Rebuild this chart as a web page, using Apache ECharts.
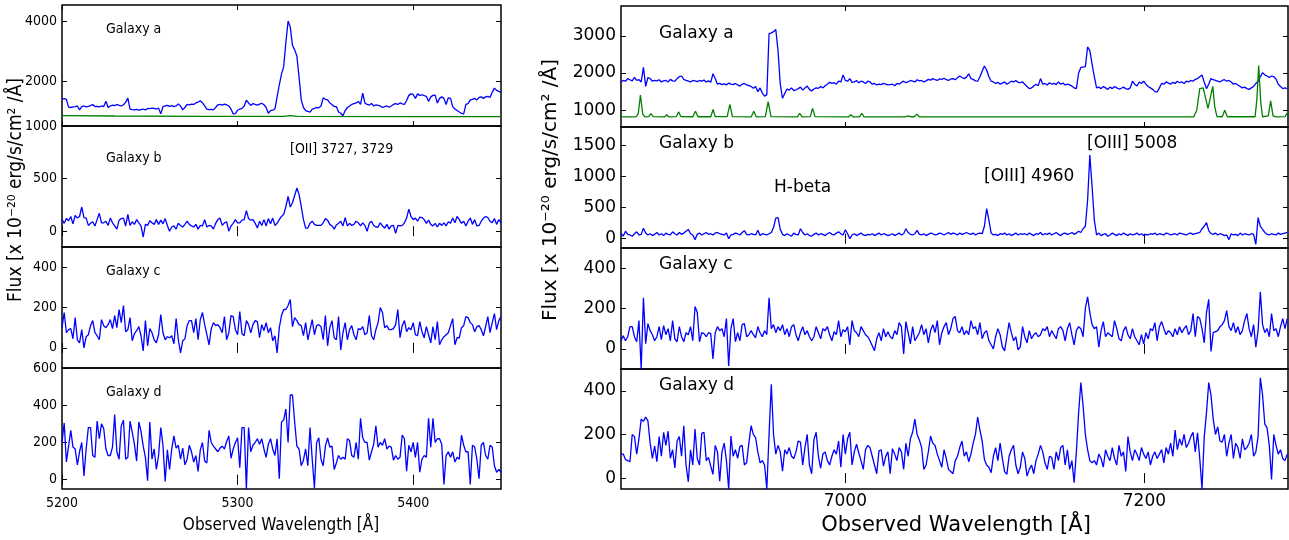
<!DOCTYPE html>
<html>
<head>
<meta charset="utf-8">
<script src="https://cdn.jsdelivr.net/npm/echarts@6/dist/echarts.min.js"></script>
<style>
  html, body { margin: 0; padding: 0; background: #fff; }
  #main { width: 1289px; height: 540px; }
</style>
</head>
<body>
<div id="main"></div>
<script>
// wavelength grids (Angstrom)
const leftStart = 5200, leftStep = 1.25;
const rightStart = 6850, rightStep = 1.5;

const leftTicks = [5200, 5300, 5400];
const rightTicks = [7000, 7200];

// ---- left column, flux values ----
const leftA = [
  1430,1440,1420,1160,1150,1170,1180,1200,1070,1180,
  1200,1170,1190,1210,1250,1180,1190,1170,1200,1180,
  1355,1150,1200,1230,1210,1250,1220,1200,1240,1320,
  1460,1100,1080,1070,1090,1060,1080,1100,1070,1120,
  1110,1130,1120,1100,1130,940,1180,1200,1220,1190,
  1210,1180,1200,1270,1200,1070,1150,1250,1240,1260,
  1250,1300,1330,1370,1300,1200,1100,1080,1090,1070,
  1150,1240,1250,1230,1260,1240,1200,1100,940,950,
  1060,1100,1120,1200,1390,1300,1220,1280,1250,1230,
  1260,1290,1240,1150,960,1050,1060,1100,1500,1900,
  2250,2500,3300,4000,3800,3200,3050,2850,2150,1400,
  1150,1050,1020,1000,1100,1120,1150,1140,1200,1470,
  1420,1400,1300,1250,1180,1180,1000,960,880,1050,
  1150,1200,1250,1280,1300,1350,1250,1620,1300,1250,
  1230,1280,1200,1240,1220,1200,1150,1180,1200,1160,
  1200,1250,1280,1250,1300,1270,1250,1380,1550,1600,
  1580,1450,1600,1550,1570,1540,1520,1350,1500,1550,
  1560,1300,1450,1500,1450,1250,1470,1450,1180,1100,
  1050,1000,960,940,1250,1280,1400,1420,1450,1400,
  1480,1500,1450,1500,1520,1480,1650,1790,1720,1680,
  1650
];
const leftSkyA = [
  [5200, 880], [5230, 870], [5280, 860], [5326, 860], [5330, 885], [5334, 860], [5400, 850], [5450, 848]
];
const leftB = [
  113,75,120,100,140,70,150,125,140,230,
  130,125,55,75,90,50,110,170,80,80,
  95,55,125,80,50,20,105,120,125,50,
  160,55,90,65,110,80,50,-55,65,55,
  100,80,65,110,65,105,70,120,55,0,
  40,50,20,75,55,40,65,95,65,50,
  40,65,20,55,50,110,40,55,50,20,
  75,110,125,55,80,90,0,50,75,110,
  80,80,105,110,195,120,105,110,75,30,
  95,55,110,50,120,70,125,55,75,110,
  140,160,235,330,230,270,340,410,350,235,
  110,30,30,75,95,65,55,55,55,80,
  120,105,65,50,20,60,75,95,50,130,
  50,75,55,65,95,80,50,80,55,0,
  75,95,55,40,40,80,50,30,65,20,
  50,55,-20,55,50,55,80,125,210,140,
  110,125,95,135,130,110,75,105,65,50,
  75,40,75,55,80,50,90,75,125,80,
  140,110,75,95,50,95,125,65,110,50,
  55,95,125,140,130,95,80,120,65,110,
  80
];
const leftC = [
  100,175,75,90,95,45,150,40,25,90,
  0,55,65,110,135,75,60,40,140,110,
  100,115,140,95,160,100,190,125,210,80,
  90,150,35,70,85,105,60,-15,135,10,
  95,75,40,25,65,165,75,40,55,50,
  60,20,145,40,-25,35,45,110,135,135,
  75,145,40,140,175,115,65,15,95,125,
  110,115,100,75,155,40,75,160,155,90,
  65,180,70,60,135,115,75,115,135,130,
  50,115,85,125,75,100,35,60,-25,100,
  160,190,190,210,240,105,150,135,115,110,
  60,125,40,90,140,65,110,115,105,40,
  160,10,100,135,50,40,155,-10,75,125,
  40,90,110,65,40,95,90,105,65,75,
  160,60,40,90,125,200,175,100,110,90,
  90,95,115,190,50,110,135,80,100,90,
  125,65,60,130,80,50,105,65,25,105,
  40,130,15,40,55,65,75,110,145,15,
  50,50,100,110,155,150,125,115,80,105,
  110,90,60,105,155,75,125,170,90,135,
  155
];
const leftD = [
  200,305,95,180,265,175,165,80,150,200,
  20,165,280,280,130,120,315,220,300,275,
  165,130,130,175,350,150,110,290,320,110,
  120,315,255,190,100,310,260,180,120,-5,
  310,110,165,55,130,280,185,-10,160,55,
  165,235,170,185,110,170,80,110,185,150,
  95,130,45,160,200,100,90,265,200,180,
  165,150,170,180,165,205,235,115,165,200,
  225,65,280,280,-50,280,150,185,200,220,
  190,220,165,120,190,220,165,130,220,5,
  310,320,380,200,455,455,310,180,165,75,
  105,165,75,280,110,-45,200,225,110,75,
  180,225,175,180,55,90,130,110,120,110,
  220,210,130,120,200,110,330,225,200,200,
  105,150,190,290,175,200,185,220,165,180,
  175,105,130,110,120,240,220,45,185,150,
  200,120,200,40,110,130,120,330,175,330,
  200,220,220,190,-25,130,150,120,150,95,
  120,110,240,185,150,150,-25,185,175,110,
  5,185,200,130,110,185,175,75,40,55,
  40
];

// ---- right column ----
const rightA = [
  1760,1800,1780,1850,1820,1790,1880,1800,1820,1760,
  2150,1640,1880,1850,1780,1800,1790,1820,1760,1790,
  1800,1760,1830,1790,1780,1850,1900,1920,1830,1800,
  1780,1760,1800,1790,1770,1800,1780,1810,1760,1790,
  1750,1980,1850,1700,1720,1690,1710,1680,1730,1700,
  1690,1720,1680,1650,1700,1720,1680,1660,1640,1590,
  1640,1500,1600,1460,1380,1420,3060,3080,3110,3170,
  2600,1700,1320,1450,1570,1540,1600,1530,1550,1580,
  1620,1540,1600,1650,1560,1520,1570,1600,1590,1640,
  1600,1660,1700,1750,1720,1740,1700,1780,1760,1950,
  1800,1780,1850,1750,1760,1800,1740,1780,1760,1720,
  1780,1760,1700,1720,1680,1700,1690,1720,1700,1680,
  1690,1700,1660,1720,1700,1750,1780,1740,1760,1800,
  1780,1760,1820,1790,1800,1760,1790,1830,1810,1850,
  1820,1800,1840,1830,1860,1820,1800,1840,1850,1820,
  1870,1920,1880,1850,1890,1980,1850,1830,1790,1780,
  1900,2050,2190,2080,1900,1780,1760,1720,1750,1700,
  1730,1760,1700,1740,1780,1760,1800,1750,1740,1760,
  1700,1640,1580,1600,1650,1700,1660,1850,1700,1720,
  1680,1740,1700,1720,1690,1760,1700,1730,1680,1700,
  1680,1650,1600,1580,2000,2150,2160,2170,2700,2600,
  2240,1900,1600,1620,1580,1640,1600,1560,1620,1580,
  1640,1600,1570,1590,1620,1580,1560,1600,1780,1700,
  1650,1760,1720,1780,1700,1640,1600,1560,1500,1490,
  1600,1720,1700,1760,1730,1700,1750,1720,1780,1740,
  1760,1720,1780,1760,1800,1780,1830,1850,1900,1950,
  1750,1580,1700,1850,1820,1800,1780,1760,1800,1820,
  1780,1800,1760,1700,1720,1680,1640,1600,1620,1580,
  1560,1600,1640,1720,1780,1900,2010,1950,1920,1880,
  1920,1900,1840,1700,1640,1580,1600,1580
];
const rightSkyA = [
  [6850,820],[6860,820],[6861.5,900],[6863,1410],[6864.5,900],[6866,820],
  [6868.5,830],[6870,910],[6871.5,830],[6879,820],[6880.6,880],[6882,820],
  [6887,830],[6888.6,955],[6890,830],[6898,825],[6899.8,975],[6901.5,825],
  [6910,825],[6911.6,1020],[6913,830],[6921,830],[6922.8,1160],[6924.5,830],
  [6937,820],[6938.8,975],[6940.5,820],[6946.5,830],[6948.4,1230],[6950.3,830],
  [6968,820],[6969.5,920],[6971,820],[6976.5,830],[6978.1,1050],[6979.7,830],
  [7002,820],[7003.7,880],[7005.3,820],[7009.5,820],[7011,920],[7012.5,820],
  [7040,820],[7042,850],[7044,825],[7046,825],[7047.8,895],[7049.5,825],
  [7090,820],[7160,820],[7233,825],[7235,1000],[7237,1580],[7239.3,1600],
  [7242.5,1050],[7245.7,1640],[7247,1100],[7248.5,830],[7252,825],[7253.7,1000],
  [7255.5,825],[7274,825],[7275.2,1300],[7276.4,2200],[7277.8,1200],[7279,825],
  [7282.8,850],[7284.4,1250],[7286,850],[7288,820],[7294,830],[7296,955]
];
const rightB = [
  90,40,120,70,60,40,80,110,60,70,
  170,90,60,80,50,70,100,60,80,50,
  90,70,60,110,80,60,100,70,90,120,
  150,80,60,-15,70,90,60,80,100,70,
  80,60,90,100,80,70,60,90,0,60,
  70,90,80,60,100,130,70,60,80,70,
  60,135,50,80,70,60,80,100,180,330,
  340,150,70,50,80,60,40,90,70,60,
  160,100,60,80,50,40,70,90,60,80,
  70,50,80,100,70,60,90,110,80,60,
  145,80,0,60,80,50,70,90,60,50,
  70,60,80,50,70,90,60,80,70,50,
  60,80,50,70,90,60,80,160,100,70,
  60,80,135,70,60,80,50,70,90,80,
  60,70,90,80,60,80,100,70,90,80,
  60,90,70,80,100,80,70,90,60,80,
  90,80,200,485,300,90,60,70,50,80,
  70,90,60,80,50,70,90,60,80,70,
  80,60,90,70,50,80,70,100,60,80,
  70,90,60,80,100,70,50,80,90,70,
  80,100,70,90,120,100,160,200,620,1350,
  840,300,60,90,50,70,80,40,60,90,
  70,50,80,60,90,70,50,80,60,70,
  90,60,80,50,70,60,80,70,90,60,
  80,70,60,90,80,60,70,80,60,90,
  80,70,60,80,90,70,80,90,100,160,
  200,260,130,80,70,90,60,80,70,50,
  60,-15,80,60,70,50,90,60,80,70,
  60,80,70,-90,340,200,150,100,70,60,
  80,70,60,90,70,80,90,100
];
const rightC = [
  40,65,40,60,110,110,60,35,140,-100,
  253,25,125,90,70,40,60,110,45,115,
  70,100,40,140,50,35,110,60,35,80,
  70,110,40,210,180,35,80,75,60,80,
  75,-50,80,110,90,100,60,150,-85,100,
  150,35,80,40,120,125,60,70,90,70,
  55,110,80,60,90,70,253,100,120,80,
  110,90,120,70,100,60,110,120,70,40,
  80,110,70,90,60,40,60,110,80,50,
  100,90,110,70,40,85,70,140,60,95,
  85,110,20,140,90,80,60,110,90,70,
  60,40,15,-10,50,80,40,100,60,85,
  60,50,90,70,130,110,-25,135,80,25,
  110,40,60,80,120,70,100,30,90,120,
  80,140,20,80,110,130,70,100,150,160,
  90,80,110,70,90,70,140,100,110,70,
  130,50,80,90,40,20,0,60,100,70,
  10,-10,60,130,80,40,60,-5,10,110,
  60,30,90,50,70,80,60,70,100,90,
  110,60,90,70,50,100,110,90,40,100,
  130,70,20,90,110,100,60,200,258,180,
  120,100,110,8,90,135,60,80,70,60,
  140,100,50,40,90,110,70,50,100,60,
  40,20,70,25,80,50,100,90,130,40,
  110,135,100,70,90,80,60,100,70,110,
  80,100,115,70,90,175,60,160,150,100,
  30,180,245,-13,80,85,90,110,120,140,
  190,110,90,130,80,110,70,90,140,175,
  100,60,120,8,90,283,120,80,100,60,
  175,90,100,60,110,150,100,150
];
const rightD = [
  110,110,85,80,75,200,190,110,180,270,
  260,280,262,160,90,147,75,190,100,210,
  150,215,90,130,47,170,190,100,240,60,
  -17,130,60,225,90,60,205,210,80,95,
  55,17,150,120,-14,120,160,80,-50,193,
  100,130,90,145,150,60,70,160,240,200,
  185,120,70,80,60,-50,200,430,200,110,
  150,120,32,130,110,140,100,90,120,170,
  165,60,140,200,60,20,175,210,100,45,
  110,120,80,60,100,130,110,170,50,200,
  110,180,210,60,120,155,115,80,40,130,
  150,140,100,60,20,125,130,55,100,120,
  20,135,110,80,140,120,40,160,100,180,
  210,270,200,175,140,40,60,120,193,160,
  150,110,80,50,130,90,40,30,20,80,
  100,140,170,100,120,75,110,160,200,280,
  220,170,85,60,50,25,100,140,80,160,
  90,30,17,100,130,150,60,20,50,120,
  90,9,40,60,20,80,110,150,120,70,
  40,100,95,40,120,80,140,150,60,130,
  40,80,-21,120,300,438,330,200,130,80,
  70,80,60,110,90,50,130,100,80,140,
  90,60,150,100,120,30,190,120,80,130,
  110,80,140,110,90,120,60,100,120,90,
  110,130,70,140,110,160,100,220,130,180,
  150,200,140,160,190,210,120,208,90,-50,
  190,300,438,380,270,200,235,170,165,200,
  100,160,200,90,160,140,90,180,130,140,
  160,200,100,120,190,460,380,247,230,150,
  -6,200,150,110,130,90,80,110
];

function spec(vals, start, step) {
  return vals.map((v, i) => [start + i * step, v]);
}

const BLUE = '#0000ff', GREEN = '#008000';
const condensed = "'DejaVu Sans Condensed', 'Liberation Sans Narrow', sans-serif";
const normal = "'DejaVu Sans', sans-serif";

// layout of the eight panels
const L = { left: 62, width: 439, font: condensed, fs: 14, xr: [5200, 5450], xt: leftTicks, lmargin: 7 };
const R = { left: 621, width: 667, font: normal, fs: 17, xr: [6850, 7296], xt: rightTicks, lmargin: 4 };

const panels = [
  { c: L, top: 5, h: 121, yr: [540, 4530], yt: [2000, 4000],
    lines: [[spec(leftA, leftStart, leftStep), BLUE], [leftSkyA, GREEN]] },
  { c: L, top: 126, h: 121, yr: [-150, 1000], yt: [0, 500, 1000],
    lines: [[spec(leftB, leftStart, leftStep), BLUE]] },
  { c: L, top: 247, h: 121, yr: [-100, 500], yt: [0, 200, 400],
    lines: [[spec(leftC, leftStart, leftStep), BLUE]] },
  { c: L, top: 368, h: 121, yr: [-50, 600], yt: [0, 200, 400, 600], bottom: true,
    lines: [[spec(leftD, leftStart, leftStep), BLUE]] },
  { c: R, top: 6, h: 121, yr: [550, 3800], yt: [1000, 2000, 3000],
    lines: [[spec(rightA, rightStart, rightStep), BLUE], [rightSkyA, GREEN]] },
  { c: R, top: 127, h: 121, yr: [-150, 1800], yt: [0, 500, 1000, 1500],
    lines: [[spec(rightB, rightStart, rightStep), BLUE]] },
  { c: R, top: 248, h: 121, yr: [-100, 500], yt: [0, 200, 400],
    lines: [[spec(rightC, rightStart, rightStep), BLUE]] },
  { c: R, top: 369, h: 120, yr: [-50, 500], yt: [0, 200, 400], bottom: true,
    lines: [[spec(rightD, rightStart, rightStep), BLUE]] }
];

const grid = [], xAxis = [], yAxis = [], series = [];
const tick = { show: true, inside: true, length: 5, lineStyle: { color: '#000', width: 1 } };
const plain = v => String(v);

panels.forEach((p, k) => {
  const c = p.c;
  grid.push({
    left: c.left, top: p.top, width: c.width, height: p.h,
    show: true, borderColor: '#000', borderWidth: 1.5,
    backgroundColor: 'transparent', outerBoundsMode: 'none'
  });
  ['bottom', 'top'].forEach((pos, j) => {
    xAxis.push({
      gridIndex: k, type: 'value', position: pos, min: c.xr[0], max: c.xr[1],
      axisLine: { show: false }, splitLine: { show: false },
      axisTick: Object.assign({ customValues: c.xt }, tick),
      axisLabel: {
        show: j === 0 && !!p.bottom, customValues: c.xt, margin: c.lmargin,
        formatter: plain, color: '#000', fontFamily: c.font, fontSize: c.fs
      }
    });
  });
  ['left', 'right'].forEach((pos, j) => {
    yAxis.push({
      gridIndex: k, type: 'value', position: pos, min: p.yr[0], max: p.yr[1],
      axisLine: { show: false }, splitLine: { show: false },
      axisTick: Object.assign({ customValues: p.yt }, tick),
      axisLabel: {
        show: j === 0, customValues: p.yt, margin: 5,
        formatter: plain, color: '#000', fontFamily: c.font, fontSize: c.fs
      }
    });
  });
  p.lines.forEach(([data, color]) => {
    series.push({
      type: 'line', xAxisIndex: 2 * k, yAxisIndex: 2 * k, data,
      symbol: 'none', silent: true, clip: true,
      lineStyle: { color, width: 1.3 }
    });
  });
});

function label(x, y, text, font, extra) {
  return Object.assign({
    type: 'text', x, y, silent: true,
    style: { text, font, fill: '#000', align: 'left', verticalAlign: 'middle' }
  }, extra || {});
}
const lf = '14px ' + condensed, rf = '17px ' + normal;
const ylab = 'Flux [x 10\u207B\u00B2\u2070 erg/s/cm\u00B2 /\u00C5]';

const graphic = [
  label(106, 29, 'Galaxy a', lf),
  label(106, 158, 'Galaxy b', lf),
  label(106, 271, 'Galaxy c', lf),
  label(106, 392, 'Galaxy d', lf),
  label(290, 149, '[OII] 3727, 3729', lf),
  label(659, 34, 'Galaxy a', rf),
  label(659, 144, 'Galaxy b', rf),
  label(659, 265, 'Galaxy c', rf),
  label(659, 386, 'Galaxy d', rf),
  label(774, 188, 'H-beta', rf),
  label(984, 177, '[OIII] 4960', rf),
  label(1087, 144, '[OIII] 5008', rf),
  { type: 'text', x: 281, y: 526, silent: true,
    style: { text: 'Observed Wavelength [\u00C5]', font: '17px ' + condensed, fill: '#000', align: 'center', verticalAlign: 'middle' } },
  { type: 'text', x: 956, y: 526, silent: true,
    style: { text: 'Observed Wavelength [\u00C5]', font: '21px ' + normal, fill: '#000', align: 'center', verticalAlign: 'middle' } },
  { type: 'text', x: 16, y: 190, rotation: Math.PI / 2, silent: true,
    style: { text: ylab, font: '19px ' + condensed, fill: '#000', align: 'center', verticalAlign: 'middle' } },
  { type: 'text', x: 551, y: 190, rotation: Math.PI / 2, silent: true,
    style: { text: ylab, font: '20px ' + normal, fill: '#000', align: 'center', verticalAlign: 'middle' } }
];

const chart = echarts.init(document.getElementById('main'));
chart.setOption({
  animation: false,
  backgroundColor: '#fff',
  grid, xAxis, yAxis, series, graphic
});
</script>
</body>
</html>
